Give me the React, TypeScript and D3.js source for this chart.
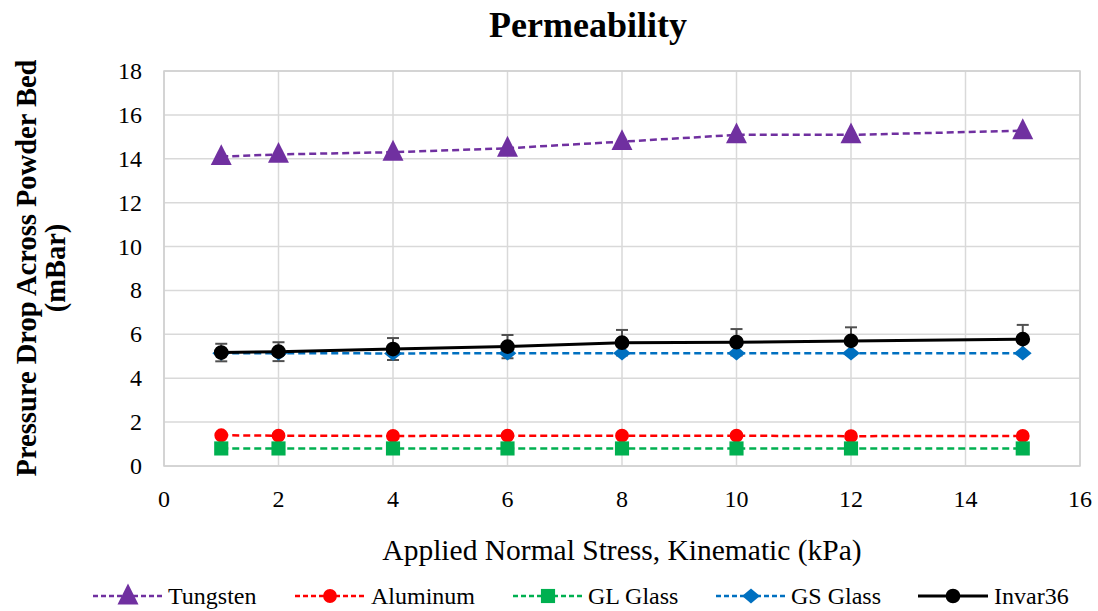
import React from "react";
import * as d3 from "d3";

const stress = [1, 2, 4, 6, 8, 10, 12, 15];
const tungsten = [14.1, 14.2, 14.3, 14.48, 14.78, 15.09, 15.09, 15.28];
const aluminum = [1.4, 1.38, 1.37, 1.38, 1.38, 1.38, 1.36, 1.37];
const glGlass = [0.8, 0.8, 0.8, 0.8, 0.8, 0.8, 0.8, 0.8];
const gsGlass = [5.14, 5.14, 5.13, 5.14, 5.14, 5.14, 5.14, 5.14];
const invar36 = [5.17, 5.21, 5.33, 5.44, 5.62, 5.64, 5.7, 5.78];
const invarErr = [0.4, 0.43, 0.5, 0.53, 0.58, 0.6, 0.62, 0.65];
const xTicks = [0, 2, 4, 6, 8, 10, 12, 14, 16];
const yTicks = [0, 2, 4, 6, 8, 10, 12, 14, 16, 18];

type Marker = "triangle" | "circle" | "square" | "diamond";
interface Series {
  name: string;
  values: number[];
  color: string;
  marker: Marker;
  dashed: boolean;
}

const series: Series[] = [
  { name: "Tungsten", values: tungsten, color: "#7030A0", marker: "triangle", dashed: true },
  { name: "Aluminum", values: aluminum, color: "#FF0000", marker: "circle", dashed: true },
  { name: "GL Glass", values: glGlass, color: "#00B050", marker: "square", dashed: true },
  { name: "GS Glass", values: gsGlass, color: "#0070C0", marker: "diamond", dashed: true },
  { name: "Invar36", values: invar36, color: "#000000", marker: "circle", dashed: false },
];

const W = 1098;
const H = 611;
const left = 164;
const right = 1080;
const top = 71;
const bottom = 466;
const font = "Liberation Serif, Times New Roman, serif";

const x = d3.scaleLinear().domain([0, 16]).range([left, right]);
const y = d3.scaleLinear().domain([0, 18]).range([bottom, top]);

const symbolTypes: Record<Marker, d3.SymbolType> = {
  triangle: d3.symbolTriangle,
  circle: d3.symbolCircle,
  square: d3.symbolSquare,
  diamond: d3.symbolDiamond2,
};

function MarkerShape({ s, cx, cy }: { s: Series; cx: number; cy: number }) {
  const sizes: Record<Marker, number> = {
    triangle: 190,
    circle: s.name === "Invar36" ? 170 : 150,
    square: 200,
    diamond: 140,
  };
  const d = d3.symbol().type(symbolTypes[s.marker]).size(sizes[s.marker])() || "";
  const dy = s.marker === "triangle" ? 1.5 : 0;
  const sc = s.marker === "triangle" ? "scale(1,1.15)" : s.marker === "diamond" ? "scale(1.2,1)" : "";
  return <path d={d} transform={`translate(${cx},${cy + dy}) ${sc}`} fill={s.color} />;
}

const legendItems = [
  { lineStart: 93, textX: 168 },
  { lineStart: 295, textX: 371 },
  { lineStart: 513, textX: 588 },
  { lineStart: 716, textX: 791 },
  { lineStart: 918, textX: 994 },
];

export default function App() {
  const line = d3
    .line<number>()
    .x((_, i) => x(stress[i]))
    .y((v) => y(v));

  return (
    <svg width={W} height={H} style={{ display: "block", position: "absolute", left: 0, top: 0 }}>
      <rect width={W} height={H} fill="#fff" />
      <text x={588} y={37} textAnchor="middle" fontFamily={font} fontWeight="bold" fontSize={36}>
        Permeability
      </text>

      {/* grid */}
      {yTicks.map((t) => (
        <line key={"gy" + t} x1={left} x2={right} y1={y(t)} y2={y(t)} stroke="#D9D9D9" strokeWidth={1.5} />
      ))}
      {xTicks.map((t) => (
        <line key={"gx" + t} x1={x(t)} x2={x(t)} y1={top} y2={bottom} stroke="#D9D9D9" strokeWidth={1.5} />
      ))}
      <rect x={left} y={top} width={right - left} height={bottom - top} fill="none" stroke="#D0D0D0" strokeWidth={1.5} />

      {/* tick labels */}
      {yTicks.map((t) => (
        <text key={"ty" + t} x={left - 22} y={y(t) + 8} textAnchor="end" fontFamily={font} fontSize={24}>
          {t}
        </text>
      ))}
      {xTicks.map((t) => (
        <text key={"tx" + t} x={x(t)} y={bottom + 41} textAnchor="middle" fontFamily={font} fontSize={24}>
          {t}
        </text>
      ))}

      {/* axis titles */}
      <text x={622} y={560} textAnchor="middle" fontFamily={font} fontSize={29.5}>
        Applied Normal Stress, Kinematic (kPa)
      </text>
      <g transform="translate(36,268) rotate(-90)">
        <text x={0} y={0} textAnchor="middle" fontFamily={font} fontWeight="bold" fontSize={28.5}>
          Pressure Drop Across Powder Bed
        </text>
        <text x={0} y={29} textAnchor="middle" fontFamily={font} fontWeight="bold" fontSize={28.5}>
          (mBar)
        </text>
      </g>

      {/* error bars for Invar36 */}
      {invar36.map((v, i) => {
        const cx = x(stress[i]);
        const y1 = y(v + invarErr[i]);
        const y2 = y(v - invarErr[i]);
        return (
          <g key={"err" + i} stroke="#505050" strokeWidth={2}>
            <line x1={cx} x2={cx} y1={y1} y2={y2} />
            <line x1={cx - 6} x2={cx + 6} y1={y1} y2={y1} />
            <line x1={cx - 6} x2={cx + 6} y1={y2} y2={y2} />
          </g>
        );
      })}

      {/* series lines and markers */}
      {series.map((s) => (
        <g key={s.name}>
          <path
            d={line(s.values) || ""}
            fill="none"
            stroke={s.color}
            strokeWidth={s.dashed ? 2.5 : 3}
            strokeDasharray={s.dashed ? "7,4" : undefined}
          />
          {s.values.map((v, i) => (
            <MarkerShape key={i} s={s} cx={x(stress[i])} cy={y(v)} />
          ))}
        </g>
      ))}

      {/* legend */}
      {series.map((s, i) => {
        const it = legendItems[i];
        const ly = 596;
        return (
          <g key={"lg" + s.name}>
            <line
              x1={it.lineStart}
              x2={it.lineStart + 70}
              y1={ly}
              y2={ly}
              stroke={s.color}
              strokeWidth={s.dashed ? 2.5 : 3}
              strokeDasharray={s.dashed ? "5,3" : undefined}
            />
            <MarkerShape s={s} cx={it.lineStart + 35} cy={ly} />
            <text x={it.textX} y={ly + 8} fontFamily={font} fontSize={24}>
              {s.name}
            </text>
          </g>
        );
      })}
    </svg>
  );
}
